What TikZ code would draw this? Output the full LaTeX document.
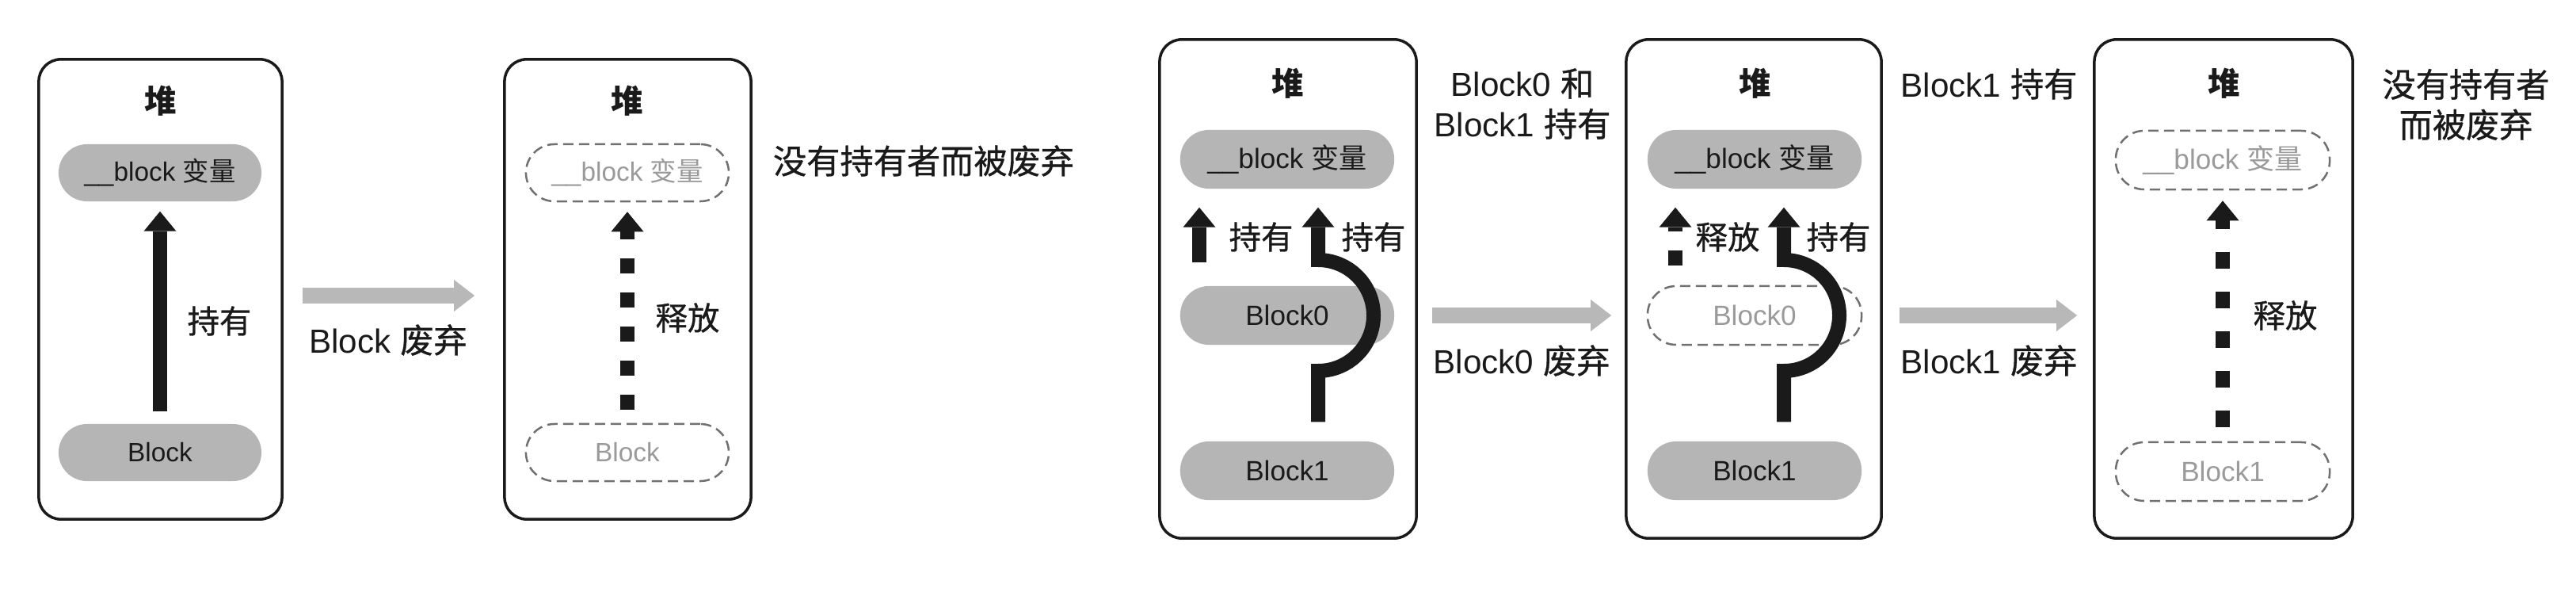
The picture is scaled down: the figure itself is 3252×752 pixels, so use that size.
\documentclass[tikz,border=0pt]{standalone}
\usepackage{fontspec}
\setmainfont{Liberation Sans}
\newfontfamily\cjk{Noto Sans CJK SC}
\newfontfamily\cjkm{Noto Sans CJK SC}[FakeBold=0.8]
\usetikzlibrary{arrows.meta,calc}
\definecolor{pillgray}{HTML}{B5B5B5}
\definecolor{arrowgray}{HTML}{B8B8B8}
\definecolor{dashgray}{HTML}{707070}
\definecolor{ghosttext}{HTML}{9A9A9A}
\definecolor{ink}{HTML}{1A1A1A}
\begin{document}
\begin{tikzpicture}[x=0.01cm,y=0.01cm,
  heap/.style={draw=ink, line width=0.035cm, rounded corners=0.28cm, inner sep=0pt},
  pillbase/.style={rounded corners=0.36cm, inner sep=0pt, minimum height=0.72cm},
  pill/.style={pillbase, fill=pillgray, text=ink},
  ghost/.style={pillbase, draw=dashgray, line width=0.025cm, dash pattern=on 0.13cm off 0.07cm, text=ghosttext},
  small/.style={font=\fontsize{9.5}{11}\selectfont, minimum width=2.56cm},
  smallr/.style={font=\fontsize{10}{12}\selectfont, minimum width=2.70cm, minimum height=0.74cm},
  title/.style={font=\fontsize{11.5}{13}\selectfont\bfseries\cjk, text=ink, inner sep=0pt},
  inlab/.style={font=\fontsize{11.5}{13}\selectfont\cjkm, text=ink, inner sep=0pt},
  lab/.style={font=\fontsize{12}{14.5}\selectfont, text=ink, align=center, inner sep=0pt},
  hold/.style={draw=ink, line width=0.18cm, -{Triangle[width=0.41cm,length=0.25cm,line width=0pt]}},
  release/.style={hold, dash pattern=#1},
  garrow/.style={draw=arrowgray, line width=0.19cm, -{Triangle[width=0.40cm,length=0.26cm,line width=0pt]}}
]
\useasboundingbox (0,0) rectangle (3252,-752);

% ---------- Box 1 ----------
\node[heap, minimum width=3.07cm, minimum height=5.80cm] (h1) at (202.5,-365) {};
\node[title] (t1) at (203,-127) {堆};
\node[pill, small] (v1) at (202,-218) {\_\_block {\cjk 变量}};
\node[pill, small] (b1) at (202,-571) {Block};
\draw[hold, shorten <=0.15cm, shorten >=0.12cm] (b1.north) -- (v1.south);
\node[inlab] (l1) at (277,-405) {持有};

% ---------- Box 2 ----------
\node[heap, minimum width=3.11cm, minimum height=5.80cm] (h2) at (792.5,-365) {};
\node[title] (t2) at (792,-127) {堆};
\node[ghost, small] (v2) at (792,-218) {\_\_block {\cjk 变量}};
\node[ghost, small] (b2) at (792,-571) {Block};
\draw[release={on 0.19cm off 0.24cm}, shorten <=0.17cm, shorten >=0.12cm] (b2.north) -- (v2.south);
\node[inlab] (l2) at (868,-401) {释放};
\node[lab, font=\fontsize{12}{14.5}\selectfont\cjkm] (n2) at (1166,-203) {没有持有者而被废弃};

% ---------- Box 3 ----------
\node[heap, minimum width=3.24cm, minimum height=6.29cm] (h3) at (1626,-364.5) {};
\node[title] (t3) at (1626,-105) {堆};
\node[pill, smallr] (v3) at (1625,-201) {\_\_block {\cjk 变量}};
\node[pill, smallr] (b30) at (1625,-398) {Block0};
\node[pill, smallr] (b31) at (1625,-594) {Block1};
\draw[hold] ($(b30.north)+(-111,29)$) -- ($(v3.south)+(-111,-23)$);
\draw[hold] ($(b31.north)+(39,24)$) -- ($(b30.center)+(39,-70)$)
  arc[start angle=-90,end angle=90,radius=70] -- ($(v3.south)+(39,-23)$);
\node[inlab] (l31) at (1592,-299) {持有};
\node[inlab] (l32) at (1734,-299) {持有};
\node[lab] (n3) at (1922,-131) {Block0 {\cjkm 和}\\Block1 {\cjkm 持有}};

% ---------- Box 4 ----------
\node[heap, minimum width=3.22cm, minimum height=6.29cm] (h4) at (2214,-364.5) {};
\node[title] (t4) at (2216,-105) {堆};
\node[pill, smallr] (v4) at (2215,-201) {\_\_block {\cjk 变量}};
\node[ghost, smallr] (b40) at (2215,-398) {Block0};
\node[pill, smallr] (b41) at (2215,-594) {Block1};
\draw[release={on 0.19cm off 0.24cm}] ($(b40.north)+(-100,25)$) -- ($(v4.south)+(-100,-23)$);
\draw[hold] ($(b41.north)+(37,24)$) -- ($(b40.center)+(37,-70)$)
  arc[start angle=-90,end angle=90,radius=70] -- ($(v4.south)+(37,-23)$);
\node[inlab] (l41) at (2181,-299) {释放};
\node[inlab] (l42) at (2321,-299) {持有};
\node[lab] (n4) at (2511,-106) {Block1 {\cjkm 持有}};

% ---------- Box 5 ----------
\node[heap, minimum width=3.26cm, minimum height=6.29cm] (h5) at (2807,-364.5) {};
\node[title] (t5) at (2808,-105) {堆};
\node[ghost, smallr] (v5) at (2806,-202) {\_\_block {\cjk 变量}};
\node[ghost, smallr] (b5) at (2806,-595) {Block1};
\draw[release={on 0.21cm off 0.29cm}, shorten <=0.18cm, shorten >=0.13cm] (b5.north) -- (v5.south);
\node[inlab] (l5) at (2885,-398) {释放};
\node[lab, font=\fontsize{12}{14.5}\selectfont\cjkm] (n5) at (3113,-132) {没有持有者\\而被废弃};

% ---------- transitions ----------
\draw[garrow] ($(h1.east)+(24,-8)$) -- ($(h2.west)+(-36,-8)$);
\node[lab] (g1) at (490,-429) {Block {\cjkm 废弃}};
\draw[garrow] ($(h3.east)+(18,-33.5)$) -- ($(h4.west)+(-17,-33.5)$);
\node[lab] (g3) at (1921,-455) {Block0 {\cjkm 废弃}};
\draw[garrow] ($(h4.east)+(21,-33.5)$) -- ($(h5.west)+(-20,-33.5)$);
\node[lab] (g4) at (2511,-455) {Block1 {\cjkm 废弃}};
\end{tikzpicture}
\end{document}
